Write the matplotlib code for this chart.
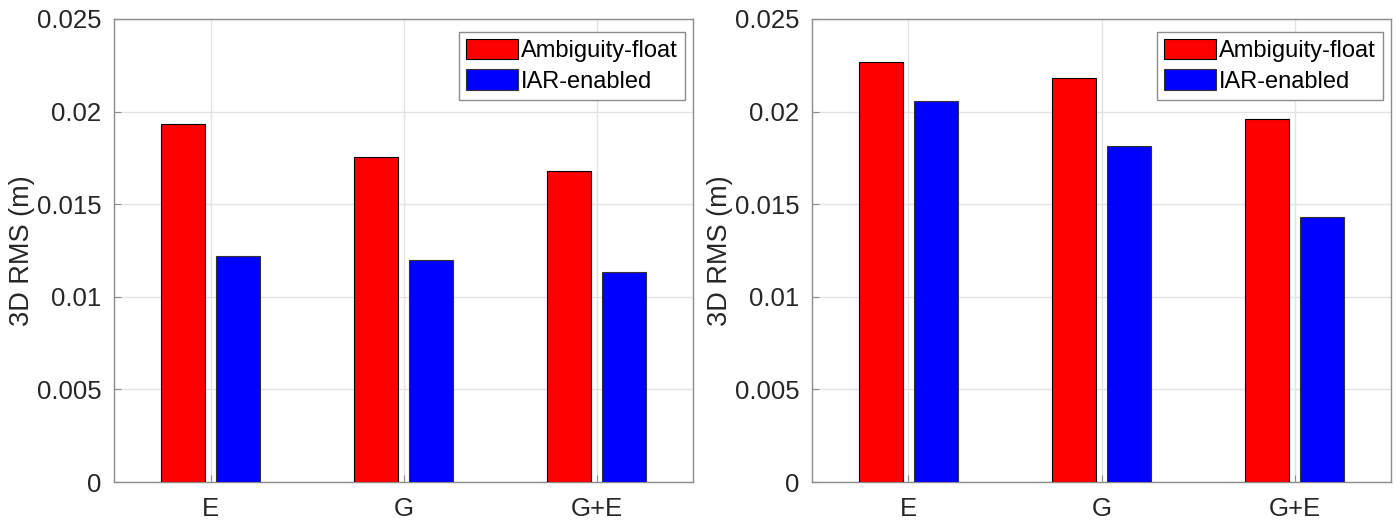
import numpy as np
import matplotlib.pyplot as plt

# data
groups = ["E", "G", "G+E"]
series_names = ["Ambiguity-float", "IAR-enabled"]
left_float = [0.01931, 0.01755, 0.01678]
left_iar = [0.01222, 0.01197, 0.01136]
right_float = [0.02268, 0.02183, 0.01958]
right_iar = [0.02059, 0.01814, 0.01431]
yticks = [0, 0.005, 0.01, 0.015, 0.02, 0.025]
ytick_labels = ["0", "0.005", "0.01", "0.015", "0.02", "0.025"]

plt.rcParams["font.family"] = ["Liberation Sans", "DejaVu Sans"]

W, H = 1396, 523
fig = plt.figure(figsize=(W / 100, H / 100), dpi=100)
fig.patch.set_facecolor("white")

x = np.arange(1, len(groups) + 1)
bw = 0.229
off = 0.143
spine_col = "#8c8c8c"
text_col = "#262626"


def panel(rect, vals_a, vals_b):
    ax = fig.add_axes(rect)
    ax.bar(x - off, vals_a, bw, color="#ff0000", edgecolor="black", linewidth=0.8,
           label=series_names[0], zorder=3)
    ax.bar(x + off, vals_b, bw, color="#0000ff", edgecolor="#333333", linewidth=0.8,
           label=series_names[1], zorder=3)
    ax.set_xlim(0.5, 3.5)
    ax.set_ylim(0, 0.025)
    ax.set_xticks(x)
    ax.set_xticklabels(groups)
    ax.set_yticks(yticks)
    ax.set_yticklabels(ytick_labels)
    ax.grid(True, color="#e3e3e3", linewidth=1.0, zorder=0)
    ax.set_axisbelow(True)
    for s in ax.spines.values():
        s.set_color(spine_col)
        s.set_linewidth(1.0)
    ax.tick_params(direction="in", length=5, width=0.8, color=spine_col,
                   labelsize=18.5, labelcolor=text_col, pad=9)
    ax.tick_params(axis="x", pad=11)
    ax.set_ylabel("3D RMS (m)", fontsize=19.5, color=text_col, labelpad=1)
    leg = ax.legend(loc="upper right", bbox_to_anchor=(1 - 8 / 579, 1 - 13 / 463),
                    borderaxespad=0, fontsize=17, fancybox=False, framealpha=1,
                    edgecolor="#8c8c8c", handlelength=2.2, handleheight=0.95,
                    handletextpad=0.15, labelspacing=0.3, borderpad=0.3)
    leg.get_frame().set_linewidth(1.0)
    return ax


panel([114 / W, (H - 482) / H, 579 / W, 463 / H], left_float, left_iar)
panel([812 / W, (H - 482) / H, 579 / W, 463 / H], right_float, right_iar)

fig.savefig("out.png", dpi=100)
